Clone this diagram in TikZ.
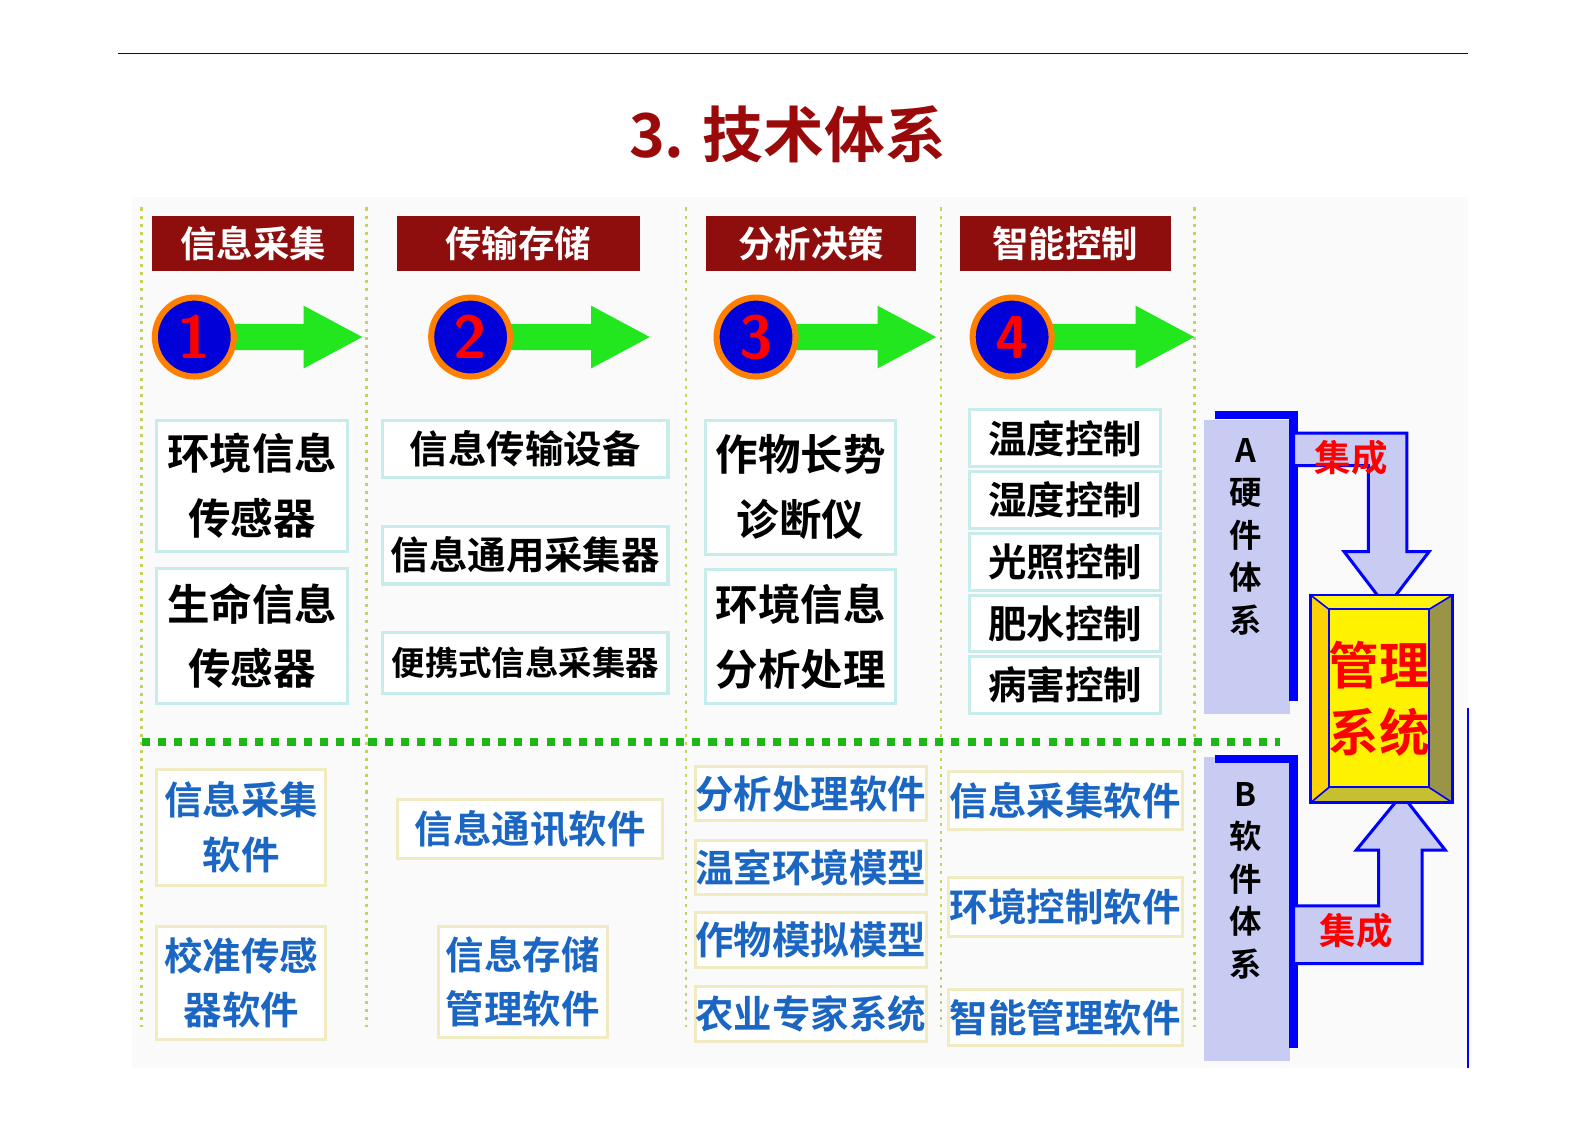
\documentclass[tikz,border=0pt]{standalone}
\usepackage{fontspec}
\setmainfont{Noto Sans CJK SC}
\newfontfamily\cjkb{Noto Sans CJK SC Bold}
\definecolor{hdr}{HTML}{8E0E0E}
\definecolor{ttl}{HTML}{9A0A0A}
\definecolor{cyb}{HTML}{C6ECEC}
\definecolor{ylb}{HTML}{F0EBC0}
\definecolor{swb}{HTML}{1A66C2}
\definecolor{lav}{HTML}{C8CCF2}
\definecolor{dotc}{HTML}{C8D060}
\definecolor{arg}{HTML}{22E61E}
\tikzset{
 hdrt/.style={text=white,inner sep=0,font=\cjkb\fontsize{18}{20}\selectfont},
 hwt/.style={inner sep=0,align=center,font=\cjkb\fontsize{21}{32}\selectfont},
 hwone/.style={inner sep=0,font=\cjkb\fontsize{19}{22}\selectfont},
 swt/.style={inner sep=0,align=center,text=swb,font=\cjkb\fontsize{19}{27}\selectfont},
 hwframe/.style={draw=cyb,line width=1.5pt,fill=white},
 swframe/.style={draw=ylb,line width=1.5pt,fill=white},
 numc/.style={circle,fill=blue!85!black,draw=orange,line width=3pt,minimum size=39pt,inner sep=0,text=red,font=\sffamily\bfseries\fontsize{30}{30}\selectfont},
 garrow/.style={fill=arg,draw=none},
 vdots/.style={dotc,line width=1.2pt,dash pattern=on 1.5pt off 2.5pt},
 bracket/.style={blue,line width=4pt},
 intarrow/.style={fill=lav,draw=blue,line width=1.5pt},
 redt/.style={text=red,font=\cjkb\fontsize{18}{20}\selectfont}
}
\newcommand{\hwb}[6][hwt]{\draw[hwframe] (#3,#4) rectangle (#5,#6); \node[#1] (#2) at ({(#3+#5)/2},{(#4+#6)/2}) }
\newcommand{\swb}[5]{\draw[swframe] (#2,#3) rectangle (#4,#5); \node[swt] (#1) at ({(#2+#4)/2},{(#3+#5)/2}) }
\begin{document}
\begin{tikzpicture}[x=0.5pt,y=-0.5pt]
\useasboundingbox (0,0) rectangle (1568,1109);
\fill[white] (0,0) rectangle (1568,1109);
\fill[black!2] (130,195) rectangle (1450,1055);
\draw[blue!60!black,line width=0.6pt] (117,53) -- (1450,53);
\node[text=ttl,font=\cjkb\fontsize{30}{30}\selectfont] (title) at (778,133) {3. 技术体系};
\foreach \x in {140,362,678,930,1180} \draw[vdots] (\x,205) -- (\x,1015);
\draw[arg!80!black,line width=4pt,dash pattern=on 4pt off 4pt] (140,733) -- (1265,733);
\foreach \a/\b/\t/\n in {150/350/信息采集/1,392/632/传输存储/2,698/905/分析决策/3,948/1157/智能控制/4}{
 \fill[hdr] (\a,213) rectangle (\b,268);
 \node[hdrt] (h\n) at ({(\a+\b)/2},240.5) {\t};
}
\foreach \cx/\ex/\n in {192/358/1,465/642/2,747/925/3,1000/1180/4}{
 \fill[garrow] (\cx,320) -- (\ex-58,320) -- (\ex-58,302) -- (\ex,333) -- (\ex-58,364) -- (\ex-58,346) -- (\cx,346) -- cycle;
 \node[numc] (c\n) at (\cx,333) {\n};
}
\hwb{e1}{155}{415}{343}{545}{环境信息\\传感器};
\hwb{e2}{155}{562}{343}{695}{生命信息\\传感器};
\hwb[hwone]{t1}{378}{415}{660}{472}{信息传输设备};
\hwb[hwone]{t2}{378}{520}{660}{577}{信息通用采集器};
\hwb[hwone,font=\cjkb\fontsize{16.5}{20}\selectfont]{t3}{378}{625}{660}{685}{便携式信息采集器};
\hwb{a1}{697}{415}{885}{548}{作物长势\\诊断仪};
\hwb{a2}{697}{563}{885}{695}{环境信息\\分析处理};
\foreach \y/\t/\n in {405/温度控制/1,466/湿度控制/2,527/光照控制/3,588/肥水控制/4,649/病害控制/5}
 {\hwb[hwone]{k\n}{958}{\y}{1147}{\y+56}{\t};}
\swb{s1}{155}{760}{322}{875}{信息采集\\软件};
\swb{s2}{155}{915}{322}{1027}{校准传感\\器软件};
\swb{s3}{393}{790}{655}{848}{信息通讯软件};
\swb{s4}{433}{915}{600}{1025}{信息存储\\管理软件};
\foreach \y/\t/\n in {757/分析处理软件/5,830/温室环境模型/6,902/作物模拟模型/7,975/农业专家系统/8}
 {\swb{s\n}{687}{\y}{915}{\y+54}{\t};}
\swb{s9}{937}{762}{1168}{820}{信息采集软件};
\swb{s10}{937}{867}{1168}{925}{环境控制软件};
\swb{s11}{937}{978}{1168}{1033}{智能管理软件};
\fill[lav] (1190,415) rectangle (1275,705);
\fill[lav] (1190,748) rectangle (1275,1048);
\node[align=center,font=\cjkb\fontsize{16}{21}\selectfont] (A) at (1231,530) {A\\硬\\件\\体\\系};
\node[align=center,font=\cjkb\fontsize{16}{21}\selectfont] (B) at (1231,870) {B\\软\\件\\体\\系};
\draw[bracket] (1200,410) -- (1278,410) -- (1278,693);
\draw[bracket] (1200,750) -- (1278,750) -- (1278,1035);
\draw[intarrow] (1278,428) -- (1390,428) -- (1390,545) -- (1412,545) -- (1370,600) -- (1328,545) -- (1352,545) -- (1352,460) -- (1278,460) -- cycle;
\node[redt] (j1) at (1335,452) {集成};
\draw[intarrow] (1278,952) -- (1405,952) -- (1405,840) -- (1428,840) -- (1385,785) -- (1340,840) -- (1362,840) -- (1362,895) -- (1278,895) -- cycle;
\node[redt] (j2) at (1340,920) {集成};
\fill[yellow!85!black] (1295,588) rectangle (1435,793);
\fill[yellow!95!white] (1295,588) -- (1435,588) -- (1412,602) -- (1313,602) -- cycle;
\fill[yellow!70!orange] (1295,588) -- (1313,602) -- (1313,778) -- (1295,793) -- cycle;
\fill[yellow!55!black] (1435,588) -- (1412,602) -- (1412,778) -- (1435,793) -- cycle;
\fill[yellow!75!black] (1295,793) -- (1313,778) -- (1412,778) -- (1435,793) -- cycle;
\fill[yellow] (1313,602) rectangle (1412,778);
\draw[blue,line width=1.2pt] (1295,588) rectangle (1435,793);
\draw[blue,line width=1pt] (1313,602) rectangle (1412,778);
\foreach \a/\b in {1295/1313,1435/1412} {\draw[blue,line width=0.8pt] (\a,588) -- (\b,602); \draw[blue,line width=0.8pt] (\a,793) -- (\b,778);}
\node[inner sep=0,align=center,text=red,font=\cjkb\fontsize{25}{33}\selectfont] (M) at (1362.5,690) {管理\\系统};
\draw[blue,line width=1pt] (1450,700) -- (1450,1055);
\end{tikzpicture}
\end{document}
